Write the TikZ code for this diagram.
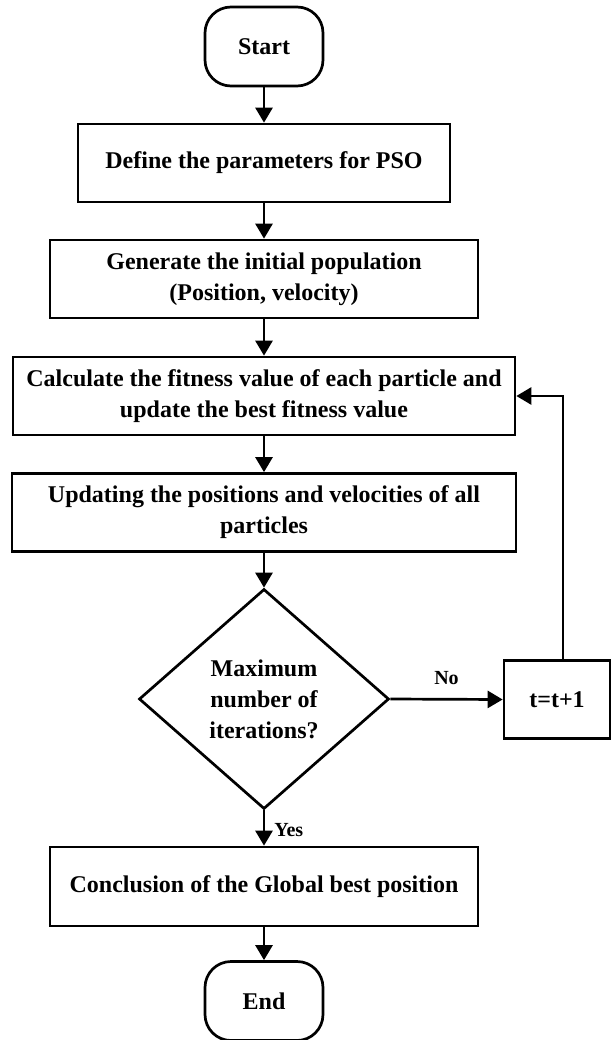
\documentclass[tikz,border=0pt]{standalone}
\usepackage{fontspec}
\setmainfont{Liberation Serif}
\usetikzlibrary{shapes.geometric,arrows.meta}
\begin{document}
\begin{tikzpicture}[x=1pt,y=-1pt,
  every node/.style={font=\fontsize{24}{31}\selectfont\bfseries, align=center, inner sep=0pt},
  procbox/.style={draw, line width=2.7pt, rectangle, minimum height=78pt},
  termbox/.style={draw, line width=2.7pt, rectangle, rounded corners=26pt, minimum width=118pt, minimum height=79pt},
  decbox/.style={draw, line width=2.7pt, diamond, aspect=1.136, minimum width=250pt, minimum height=220pt},
  flow/.style={line width=2.7pt, -{Triangle[length=15pt,width=17pt]}},
  lbl/.style={font=\fontsize{20}{22}\selectfont\bfseries}
]
\useasboundingbox (0,0) rectangle (611,1040);
\node[termbox] (start) at (264,46.5) {Start};
\node[procbox, minimum width=372pt] (b1) at (264,163) {Define the parameters for PSO};
\node[procbox, minimum width=428pt] (b2) at (264,279) {Generate the initial population\\(Position, velocity)};
\node[procbox, minimum width=502pt] (b3) at (264,396) {Calculate the fitness value of each particle and\\update the best fitness value};
\node[procbox, minimum width=504pt] (b4) at (264,512.5) {Updating the positions and velocities of all\\particles};
\node[decbox] (dec) at (264,699) {Maximum\\number of\\iterations?};
\node[procbox, minimum width=106pt] (tb) at (557,699.5) {t=t+1};
\node[procbox, minimum width=428pt, minimum height=79pt] (b5) at (264,886.5) {Conclusion of the Global best position};
\node[termbox] (end) at (264,1001) {End};
\coordinate (fb) at ([xshift=6pt]tb.north);
\draw[flow] (start) -- (b1);
\draw[flow] (b1) -- (b2);
\draw[flow] (b2) -- (b3);
\draw[flow] (b3) -- (b4);
\draw[flow] (b4) -- (dec);
\draw[flow] (dec.east) -- node[lbl, above=13pt] {No} (tb.west);
\draw[flow] (fb) |- (b3.east);
\draw[flow] (dec.south) -- node[lbl, right=9pt, pos=0.55] {Yes} (b5.north);
\draw[flow] (b5) -- (end);
\end{tikzpicture}
\end{document}
